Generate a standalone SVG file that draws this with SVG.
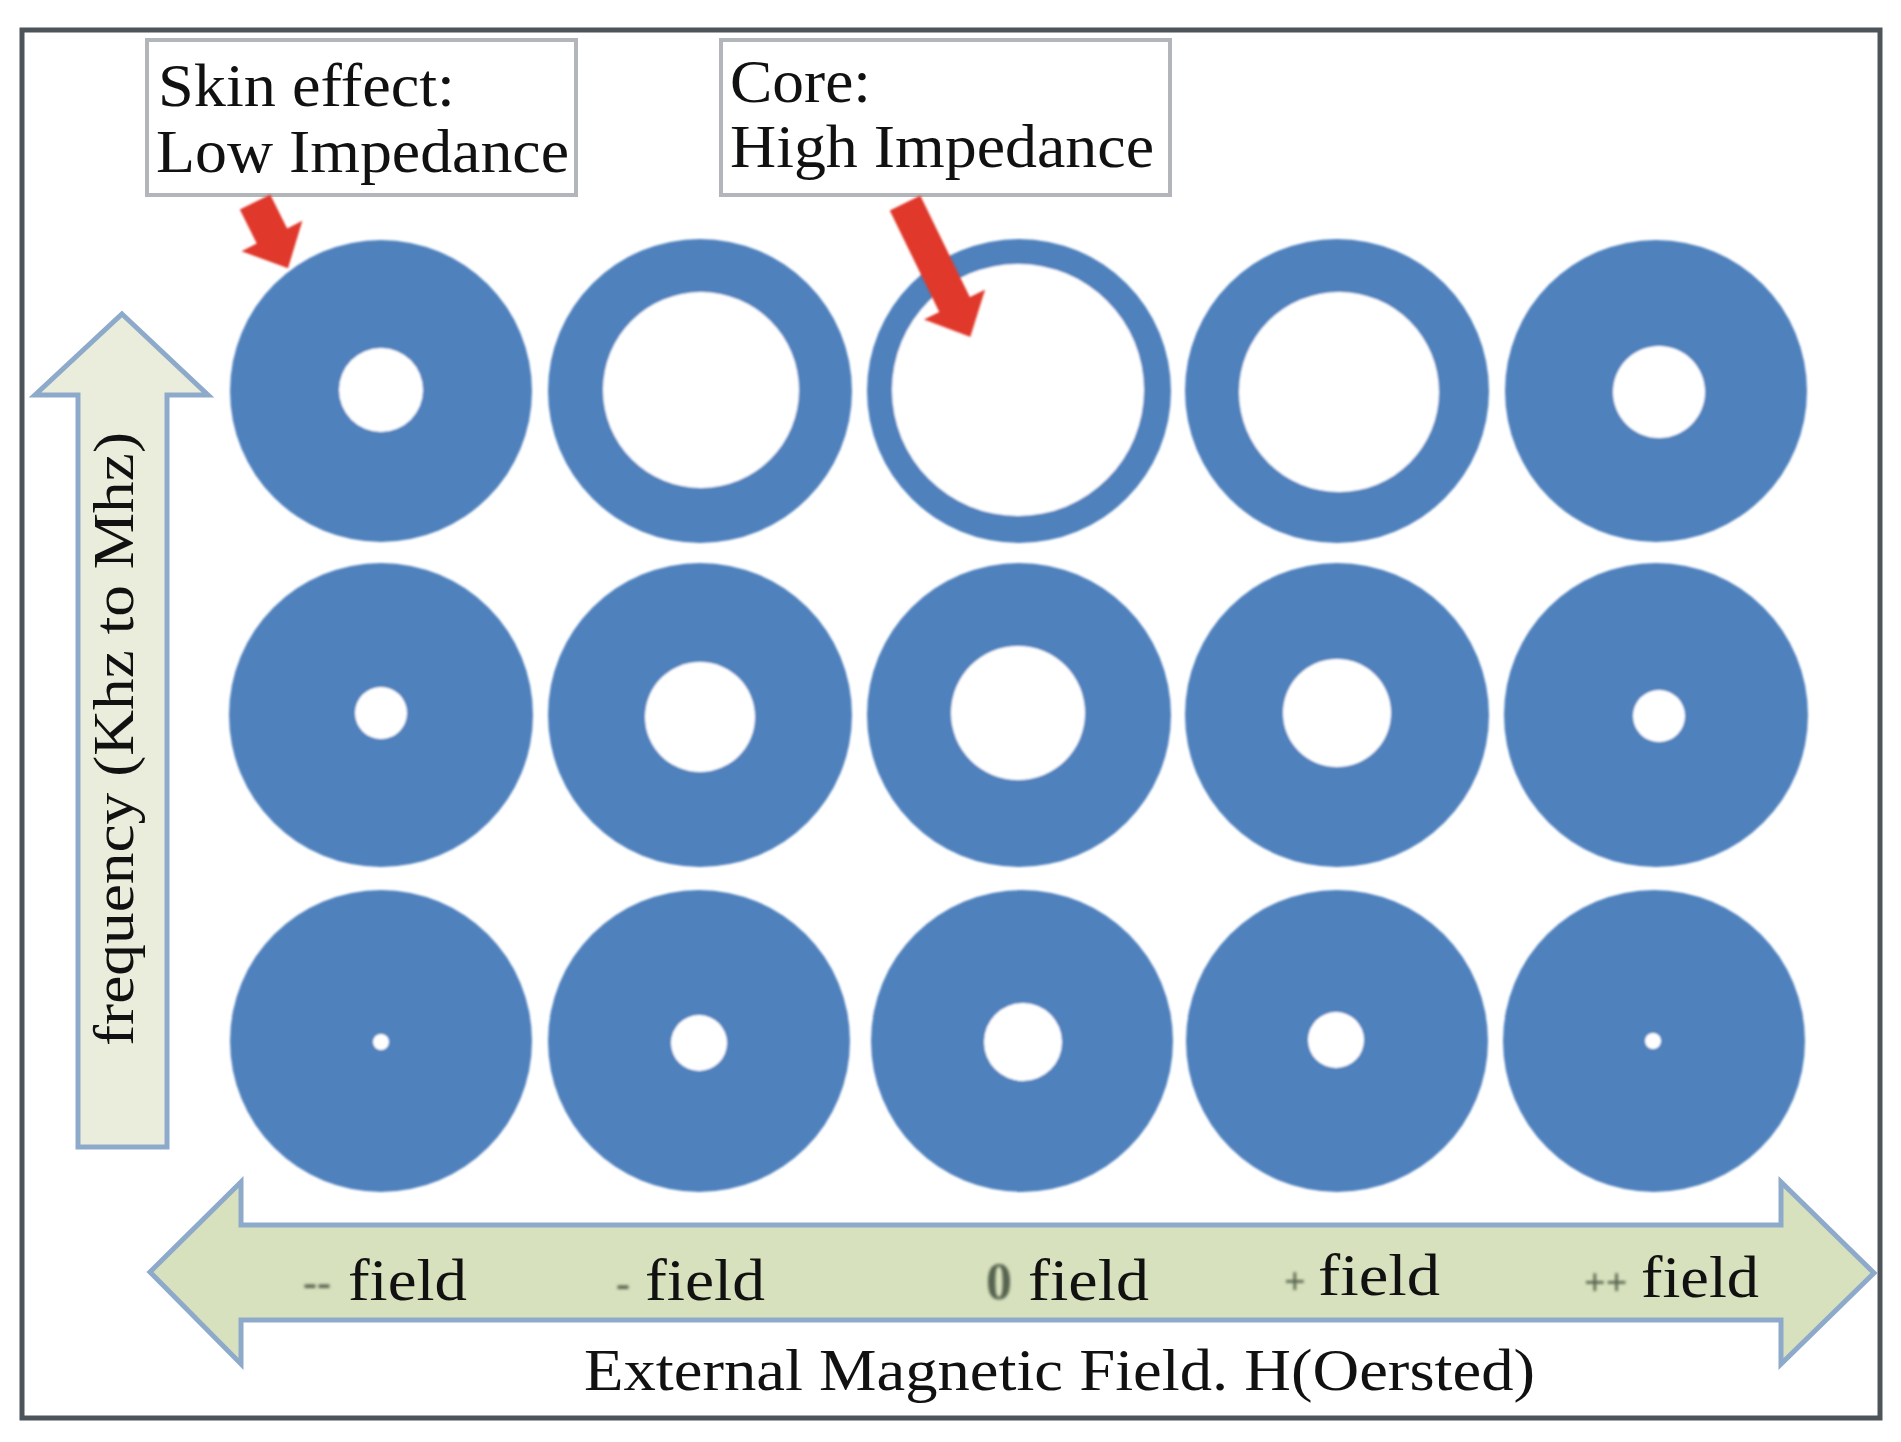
<svg xmlns="http://www.w3.org/2000/svg" width="1901" height="1442" viewBox="0 0 1901 1442">
<defs>
<style>
.disk{fill:#4f81bd}
.hole{fill:#ffffff}
.lbl{font-family:"Liberation Serif","Times New Roman",serif;fill:#111111}
.sign{font-family:"Liberation Serif","Times New Roman",serif;fill:#56644f;font-weight:bold}
.box{fill:#ffffff;stroke:#b2b6ba;stroke-width:4}
.red{fill:#e0392b}
.axis{stroke:#8eaacb;stroke-width:5;stroke-linejoin:miter}
</style>
<filter id="soft" x="-5%" y="-5%" width="110%" height="110%"><feGaussianBlur stdDeviation="1.2"/></filter>
<filter id="blur2" x="-20%" y="-20%" width="140%" height="140%"><feGaussianBlur stdDeviation="1.6"/></filter>
<linearGradient id="boxshade" x1="0" y1="0" x2="0" y2="1">
<stop offset="0" stop-color="#c9cccf"/>
<stop offset="0.12" stop-color="#ffffff"/>
<stop offset="1" stop-color="#ffffff"/>
</linearGradient>
</defs>
<rect width="1901" height="1442" fill="#ffffff"/>
<g id="frame">
<rect x="22" y="30" width="1858" height="1388" fill="none" stroke="#4d555b" stroke-width="5"/>
<line x1="22" y1="30" x2="1880" y2="30" stroke="#6d757b" stroke-width="8" filter="url(#soft)"/>
</g>
<g id="box-skin">
<rect class="box" x="147" y="40" width="429" height="155" fill="url(#boxshade)"/>
<text class="lbl" x="158" y="106" font-size="61" textLength="297" lengthAdjust="spacingAndGlyphs">Skin effect:</text>
<text class="lbl" x="156" y="172" font-size="61" textLength="413" lengthAdjust="spacingAndGlyphs">Low Impedance</text>
</g>
<g id="box-core">
<rect class="box" x="721" y="40" width="449" height="155" fill="url(#boxshade)"/>
<text class="lbl" x="730" y="102" font-size="61" textLength="141" lengthAdjust="spacingAndGlyphs">Core:</text>
<text class="lbl" x="730" y="167" font-size="61" textLength="424" lengthAdjust="spacingAndGlyphs">High Impedance</text>
</g>
<g id="freq-axis">
<path class="axis" fill="#eaeddc" d="M122,314 L208,395 L167,395 L167,1147 L78,1147 L78,395 L35,395 Z"/>
<text class="lbl" transform="translate(133,739) rotate(-90)" x="0" y="0" text-anchor="middle" font-size="56" textLength="614" lengthAdjust="spacingAndGlyphs">frequency (Khz to Mhz)</text>
</g>
<g id="field-axis">
<path class="axis" fill="#d8e1bd" d="M150,1272 L241,1182 L241,1225 L1781,1225 L1781,1182 L1874,1273 L1781,1364 L1781,1320 L241,1320 L241,1364 Z"/>
<text class="sign" x="303" y="1296" font-size="42" filter="url(#blur2)">--</text>
<text class="lbl" x="348" y="1300" font-size="60" textLength="119" lengthAdjust="spacingAndGlyphs">field</text>
<text class="sign" x="616" y="1297" font-size="42" filter="url(#blur2)">-</text>
<text class="lbl" x="645" y="1300" font-size="60" textLength="120" lengthAdjust="spacingAndGlyphs">field</text>
<text class="sign" x="986" y="1299" font-size="52" filter="url(#blur2)">0</text>
<text class="lbl" x="1028" y="1300" font-size="60" textLength="121" lengthAdjust="spacingAndGlyphs">field</text>
<text class="sign" x="1284" y="1294" font-size="38" filter="url(#blur2)">+</text>
<text class="lbl" x="1318" y="1295" font-size="60" textLength="122" lengthAdjust="spacingAndGlyphs">field</text>
<text class="sign" x="1584" y="1295" font-size="38" filter="url(#blur2)">++</text>
<text class="lbl" x="1641" y="1297" font-size="60" textLength="118" lengthAdjust="spacingAndGlyphs">field</text>
<text class="lbl" x="584" y="1390" font-size="60" textLength="951" lengthAdjust="spacingAndGlyphs">External Magnetic Field. H(Oersted)</text>
</g>
<g id="disks" filter="url(#soft)">
<g id="d-1-1"><circle class="disk" cx="381" cy="391" r="151"/><circle class="hole" cx="381" cy="390" r="42"/></g>
<g id="d-1-2"><circle class="disk" cx="700" cy="391" r="152"/><circle class="hole" cx="701" cy="390" r="98"/></g>
<g id="d-1-3"><circle class="disk" cx="1019" cy="391" r="152"/><circle class="hole" cx="1018" cy="390" r="126"/></g>
<g id="d-1-4"><circle class="disk" cx="1337" cy="391" r="152"/><circle class="hole" cx="1339" cy="392" r="100"/></g>
<g id="d-1-5"><circle class="disk" cx="1656" cy="391" r="151"/><circle class="hole" cx="1659" cy="392" r="46"/></g>
<g id="d-2-1"><circle class="disk" cx="381" cy="715" r="152"/><circle class="hole" cx="381" cy="713" r="26"/></g>
<g id="d-2-2"><circle class="disk" cx="700" cy="715" r="152"/><circle class="hole" cx="700" cy="717" r="55"/></g>
<g id="d-2-3"><circle class="disk" cx="1019" cy="715" r="152"/><circle class="hole" cx="1018" cy="713" r="67"/></g>
<g id="d-2-4"><circle class="disk" cx="1337" cy="715" r="152"/><circle class="hole" cx="1337" cy="713" r="54"/></g>
<g id="d-2-5"><circle class="disk" cx="1656" cy="715" r="152"/><circle class="hole" cx="1659" cy="716" r="26"/></g>
<g id="d-3-1"><circle class="disk" cx="381" cy="1041" r="151"/><circle class="hole" cx="381" cy="1042" r="8"/></g>
<g id="d-3-2"><circle class="disk" cx="699" cy="1041" r="151"/><circle class="hole" cx="699" cy="1043" r="28"/></g>
<g id="d-3-3"><circle class="disk" cx="1022" cy="1041" r="151"/><circle class="hole" cx="1023" cy="1042" r="39"/></g>
<g id="d-3-4"><circle class="disk" cx="1337" cy="1041" r="151"/><circle class="hole" cx="1336" cy="1040" r="28"/></g>
<g id="d-3-5"><circle class="disk" cx="1654" cy="1041" r="151"/><circle class="hole" cx="1653" cy="1041" r="8"/></g>
</g>
<g id="connectors" filter="url(#soft)">
<path class="red" transform="translate(255,202) rotate(63.5)" d="M0,-17 L38,-17 L38,-34 L74,0 L38,34 L38,17 L0,17 Z"/>
<path class="red" transform="translate(905,203) rotate(64)" d="M0,-17 L113,-17 L113,-34 L149,0 L113,34 L113,17 L0,17 Z"/>
</g>
</svg>
